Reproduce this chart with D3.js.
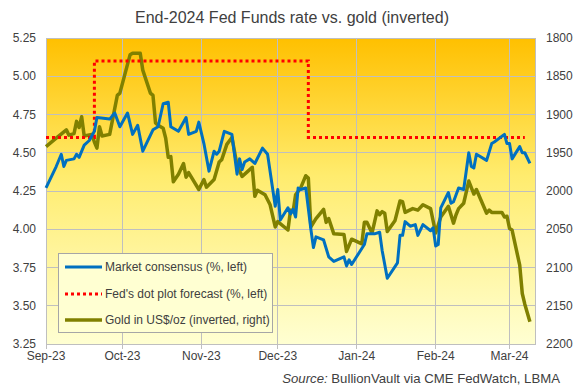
<!DOCTYPE html>
<html><head><meta charset="utf-8">
<script src="https://cdn.jsdelivr.net/npm/d3@7"></script>
<style>
body{margin:0;background:#fff;}
svg text{font-family:"Liberation Sans",Arial,sans-serif;fill:#404040;}
</style></head>
<body><svg id="c" width="583" height="390"></svg>
<script>
const consensusDates = ["2023-09-01","2023-09-05","2023-09-07","2023-09-08","2023-09-09","2023-09-12","2023-09-13","2023-09-14","2023-09-16","2023-09-18","2023-09-20","2023-09-21","2023-09-26","2023-09-28","2023-09-30","2023-10-03","2023-10-05","2023-10-07","2023-10-09","2023-10-13","2023-10-15","2023-10-17","2023-10-19","2023-10-20","2023-10-23","2023-10-26","2023-10-27","2023-10-30","2023-10-31","2023-11-02","2023-11-04","2023-11-06","2023-11-07","2023-11-08","2023-11-10","2023-11-13","2023-11-15","2023-11-16","2023-11-17","2023-11-18","2023-11-20","2023-11-22","2023-11-25","2023-11-27","2023-11-30","2023-12-01","2023-12-02","2023-12-05","2023-12-06","2023-12-07","2023-12-08","2023-12-09","2023-12-10","2023-12-12","2023-12-14","2023-12-15","2023-12-16","2023-12-19","2023-12-21","2023-12-23","2023-12-27","2023-12-28","2023-12-29","2023-12-30","2024-01-04","2024-01-05","2024-01-08","2024-01-10","2024-01-11","2024-01-13","2024-01-17","2024-01-18","2024-01-19","2024-01-20","2024-01-22","2024-01-24","2024-01-25","2024-01-27","2024-01-30","2024-01-31","2024-02-01","2024-02-02","2024-02-03","2024-02-06","2024-02-07","2024-02-08","2024-02-10","2024-02-12","2024-02-14","2024-02-15","2024-02-16","2024-02-17","2024-02-21","2024-02-23","2024-02-24","2024-02-28","2024-02-29","2024-03-01","2024-03-02","2024-03-05","2024-03-06","2024-03-07","2024-03-09"];
const consensusRates = [4.27,4.41,4.49,4.41,4.45,4.46,4.49,4.47,4.55,4.58,4.64,4.73,4.72,4.76,4.67,4.76,4.62,4.68,4.51,4.65,4.67,4.82,4.83,4.67,4.64,4.73,4.62,4.64,4.70,4.56,4.38,4.51,4.49,4.51,4.64,4.62,4.36,4.46,4.39,4.44,4.46,4.43,4.53,4.49,4.15,4.26,4.06,4.14,4.10,4.13,4.08,4.27,4.26,4.27,4.00,3.88,3.95,3.93,3.82,3.79,3.82,3.76,3.80,3.77,3.90,3.97,3.97,3.98,3.86,3.68,3.78,3.96,3.96,4.05,4.02,4.03,3.96,4.03,3.99,4.01,3.89,3.90,4.14,4.24,4.17,4.18,4.27,4.26,4.50,4.41,4.40,4.49,4.45,4.56,4.57,4.62,4.56,4.56,4.46,4.54,4.50,4.50,4.43];

const dotPlotDates = ["2023-09-01","2023-09-20","2023-12-13","2024-03-07"];
const dotPlotRates = [4.6,5.1,4.6,4.6];

const goldDates = ["2023-09-01","2023-09-05","2023-09-09","2023-09-10","2023-09-12","2023-09-13","2023-09-14","2023-09-15","2023-09-16","2023-09-19","2023-09-20","2023-09-21","2023-09-22","2023-09-23","2023-09-26","2023-09-29","2023-09-30","2023-10-04","2023-10-05","2023-10-08","2023-10-09","2023-10-12","2023-10-13","2023-10-14","2023-10-15","2023-10-17","2023-10-18","2023-10-19","2023-10-20","2023-10-21","2023-10-23","2023-10-25","2023-10-26","2023-10-27","2023-10-31","2023-11-02","2023-11-03","2023-11-06","2023-11-08","2023-11-09","2023-11-11","2023-11-13","2023-11-15","2023-11-17","2023-11-19","2023-11-21","2023-11-22","2023-11-23","2023-11-26","2023-11-28","2023-11-30","2023-12-01","2023-12-05","2023-12-06","2023-12-07","2023-12-08","2023-12-10","2023-12-12","2023-12-13","2023-12-14","2023-12-16","2023-12-19","2023-12-20","2023-12-21","2023-12-23","2023-12-27","2023-12-28","2023-12-30","2024-01-03","2024-01-04","2024-01-05","2024-01-07","2024-01-09","2024-01-10","2024-01-11","2024-01-12","2024-01-13","2024-01-16","2024-01-18","2024-01-19","2024-01-20","2024-01-23","2024-01-25","2024-01-27","2024-01-30","2024-02-01","2024-02-03","2024-02-06","2024-02-08","2024-02-09","2024-02-10","2024-02-12","2024-02-14","2024-02-16","2024-02-17","2024-02-21","2024-02-22","2024-02-23","2024-02-27","2024-02-28","2024-02-29","2024-03-01","2024-03-02","2024-03-05","2024-03-06","2024-03-07","2024-03-09"];
const goldPrices = [1942,1931,1920,1927,1925,1909,1917,1903,1928,1926,1936,1944,1916,1928,1926,1875,1872,1822,1820,1820,1842,1872,1875,1911,1914,1918,1931,1956,1955,1988,1978,1964,1982,1976,1998,1985,1995,1985,1962,1959,1939,1930,1966,1981,1975,1969,2007,1999,2005,2018,2047,2040,2051,2025,2027,2005,1996,1980,1983,2047,2036,2024,2041,2036,2056,2057,2079,2063,2069,2041,2041,2055,2026,2031,2027,2029,2053,2039,2013,2014,2028,2023,2025,2018,2023,2055,2034,2020,2042,2031,2023,2016,1987,2004,1998,2029,2025,2028,2028,2034,2033,2049,2051,2097,2134,2148,2171];

const leftTicks = [3.25,3.50,3.75,4.00,4.25,4.50,4.75,5.00,5.25];
const rightTicks = [1800,1850,1900,1950,2000,2050,2100,2150,2200];
const xDomain = ["2023-09-01","2024-03-11"];
const seriesNames = ["Market consensus (%, left)","Fed's dot plot forecast (%, left)","Gold in US$/oz (inverted, right)"];
const titleText = "End-2024 Fed Funds rate vs. gold (inverted)";

const parse = d3.utcParse("%Y-%m-%d");
const svg = d3.select("#c");
const L = 46, R = 535, T = 38, B = 344;

const x = d3.scaleUtc().domain(xDomain.map(parse)).range([L, R]);
const yL = d3.scaleLinear().domain([3.25, 5.25]).range([B, T]);
const yR = d3.scaleLinear().domain([1800, 2200]).range([T, B]);

const defs = svg.append("defs");
const grad = defs.append("linearGradient").attr("id","bg").attr("x1",0).attr("y1",0).attr("x2",0).attr("y2",1);
grad.append("stop").attr("offset","0%").attr("stop-color","#FFC000");
grad.append("stop").attr("offset","45%").attr("stop-color","#FFEC6E");
grad.append("stop").attr("offset","100%").attr("stop-color","#FFFFD2");

svg.append("rect").attr("x",L).attr("y",T).attr("width",R-L).attr("height",B-T).attr("fill","url(#bg)");

// gridlines
const monthTicks = d3.utcMonth.range(parse("2023-09-01"), parse("2024-03-02"));
svg.append("g").selectAll("line").data(leftTicks).join("line")
  .attr("x1",L).attr("x2",R).attr("y1",d=>yL(d)).attr("y2",d=>yL(d))
  .attr("stroke","#BFBFBF").attr("stroke-width",1).attr("shape-rendering","crispEdges");
svg.append("g").selectAll("line").data(monthTicks).join("line")
  .attr("x1",d=>x(d)).attr("x2",d=>x(d)).attr("y1",T).attr("y2",B+5)
  .attr("stroke","#BFBFBF").attr("stroke-width",1).attr("shape-rendering","crispEdges");
svg.append("rect").attr("x",L).attr("y",T).attr("width",R-L).attr("height",B-T)
  .attr("fill","none").attr("stroke","#BFBFBF").attr("shape-rendering","crispEdges");

// axes labels
svg.append("g").selectAll("text").data(leftTicks).join("text")
  .attr("x",36).attr("y",d=>yL(d)+4).attr("text-anchor","end").attr("font-size",12)
  .text(d=>d3.format(".2f")(d));
svg.append("g").selectAll("text").data(rightTicks).join("text")
  .attr("x",546).attr("y",d=>yR(d)+4).attr("text-anchor","start").attr("font-size",12)
  .text(d=>d);
const fmt = d3.utcFormat("%b-%y");
svg.append("g").selectAll("text").data(monthTicks).join("text")
  .attr("x",d=>x(d)).attr("y",360).attr("text-anchor","middle").attr("font-size",12)
  .text(d=>fmt(d));

// series
const consensus = consensusDates.map((d,i)=>({date:parse(d), v:consensusRates[i]}));
const gold = goldDates.map((d,i)=>({date:parse(d), v:goldPrices[i]}));
const dots = dotPlotDates.map((d,i)=>({date:parse(d), v:dotPlotRates[i]}));

svg.append("path").datum(gold).attr("fill","none").attr("stroke","#808000").attr("stroke-width",3.5)
  .attr("stroke-linejoin","round")
  .attr("d", d3.line().x(d=>x(d.date)).y(d=>yR(d.v)));
svg.append("path").datum(dots).attr("fill","none").attr("stroke","#FF0000").attr("stroke-width",3)
  .attr("stroke-dasharray","3,3")
  .attr("d", d3.line().curve(d3.curveStepAfter).x(d=>x(d.date)).y(d=>yL(d.v)));
svg.append("path").datum(consensus).attr("fill","none").attr("stroke","#0070C0").attr("stroke-width",3)
  .attr("stroke-linejoin","round")
  .attr("d", d3.line().x(d=>x(d.date)).y(d=>yL(d.v)));

// legend
const lg = svg.append("g");
lg.append("rect").attr("x",58.5).attr("y",253.5).attr("width",214).attr("height",79)
  .attr("fill","#FFFFD2").attr("stroke","#A6A6A6");
const legStyles = [
  {c:"#0070C0", w:3, dash:null},
  {c:"#FF0000", w:3, dash:"3,3"},
  {c:"#808000", w:3.5, dash:null}
];
const rowsY = [267, 294, 320];
seriesNames.forEach((n,i)=>{
  const ln = lg.append("line").attr("x1",65).attr("x2",102).attr("y1",rowsY[i]).attr("y2",rowsY[i])
    .attr("stroke",legStyles[i].c).attr("stroke-width",legStyles[i].w);
  if (legStyles[i].dash) ln.attr("stroke-dasharray",legStyles[i].dash);
  lg.append("text").attr("x",105).attr("y",rowsY[i]+4).attr("font-size",12).text(n);
});

// title
svg.append("text").attr("x",292).attr("y",23).attr("text-anchor","middle").attr("font-size",16).text(titleText);

// source
const src = svg.append("text").attr("x",560).attr("y",383).attr("text-anchor","end").attr("font-size",13.2);
src.append("tspan").attr("font-style","italic").text("Source:");
src.append("tspan").text(" BullionVault via CME FedWatch, LBMA");
</script></body></html>
